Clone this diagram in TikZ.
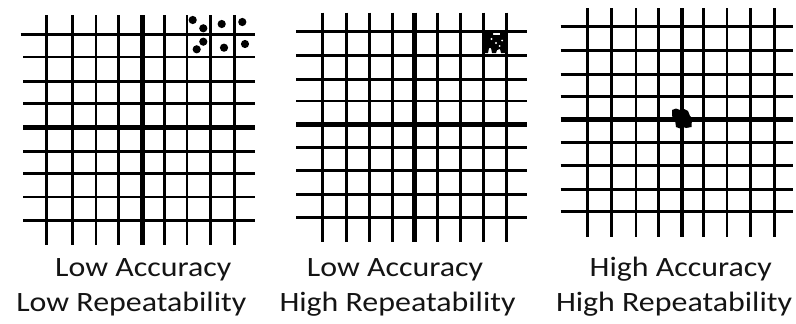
\documentclass[tikz,border=0pt]{standalone}
\usepackage{fontspec}
\setmainfont{Carlito}
\newcommand{\widetxt}[1]{\scalebox{1.14}[1]{#1}}
\begin{document}
\begin{tikzpicture}[x=1pt,y=-1pt,
  gl/.style={line width=3pt,black},
  glthick/.style={line width=4.5pt,black},
  glthin/.style={line width=2pt,black},
  lbl/.style={anchor=base,inner sep=0pt,font=\fontsize{28}{30}\selectfont,text=black!92},
  dot/.style={fill=black,draw=none}]
\useasboundingbox[fill=white] (0,0) rectangle (796,324);
% ---------- Grid 1 ----------
\foreach \x/\s in {46.7/gl,72.3/gl,96/glthin,118.7/gl,142.3/glthick,164.3/gl,187.3/glthin,210.7/gl,234.3/gl}
  \draw[\s] (\x,15) -- (\x,245);
\draw[gl] (20.7,34) -- (255,34);
\foreach \y/\s in {57.3/glthin,81/gl,103.3/gl,127.7/glthick,151/gl,173.7/gl,197/glthin,220/gl}
  \draw[\s] (23.3,\y) -- (255,\y);
\foreach \p in {(192.7,20),(203.3,28.3),(221.7,24),(242.3,22),(203.3,41.7),(196.7,49.3),(224,47.7),(245,44)}
  \fill[dot] \p circle (4.1);
% ---------- Grid 2 ----------
\foreach \x/\s in {322.3/gl,346.3/gl,369.7/gl,392.3/gl,414.3/glthick,437.7/gl,460.3/gl,483.3/gl,506.3/gl}
  \draw[\s] (\x,12.7) -- (\x,241.7);
\foreach \y/\s in {31.7/gl,55/gl,79/gl,100.7/glthin,124.7/glthick,147.3/gl,170.7/gl,194/gl,217/gl}
  \draw[\s] (296,\y) -- (526.7,\y);
\fill[dot] (483,31) -- (493,30.5) -- (493,35) -- (500,35) -- (500,31) -- (506,31) -- (506,53) -- (501,53) -- (500,49) -- (497,50) -- (496,53) -- (492,53) -- (491,48) -- (489,48) -- (488,53) -- (484,53) -- cycle;
\fill[white] (491.5,39) circle (1.2) (496,43) circle (1.2) (502,40.5) circle (1) (499.5,46) circle (1);
% ---------- Grid 3 ----------
\foreach \x/\s in {587.3/gl,611.7/gl,635.7/glthin,658.3/gl,682/glthick,703.3/gl,726.7/glthin,750/gl,774/gl}
  \draw[\s] (\x,8.3) -- (\x,237.3);
\foreach \y/\s in {26/gl,50.7/gl,74/gl,96.7/gl,119.3/glthick,142.7/gl,165.7/gl,189.3/gl,211.7/gl}
  \draw[\s] (560.7,\y) -- (793.3,\y);
\fill[dot] (672,110) -- (676,108.5) -- (680,110) -- (684,109) -- (688,111) -- (690,116) -- (692,118) -- (691.5,127) -- (686,128) -- (683,127) -- (680,128.5) -- (676,127) -- (675,120) -- (672,116) -- cycle;
% ---------- Labels ----------
\node[lbl] (t1a) at (143.3,276.7) {\widetxt{Low Accuracy}};
\node[lbl] (t1b) at (131.3,311.7) {\widetxt{Low Repeatability}};
\node[lbl] (t2a) at (395,276.7) {\widetxt{Low Accuracy}};
\node[lbl] (t2b) at (397.5,311.7) {\widetxt{High Repeatability}};
\node[lbl] (t3a) at (680.8,276.7) {\widetxt{High Accuracy}};
\node[lbl] (t3b) at (674,311.7) {\widetxt{High Repeatability}};
\end{tikzpicture}
\end{document}
